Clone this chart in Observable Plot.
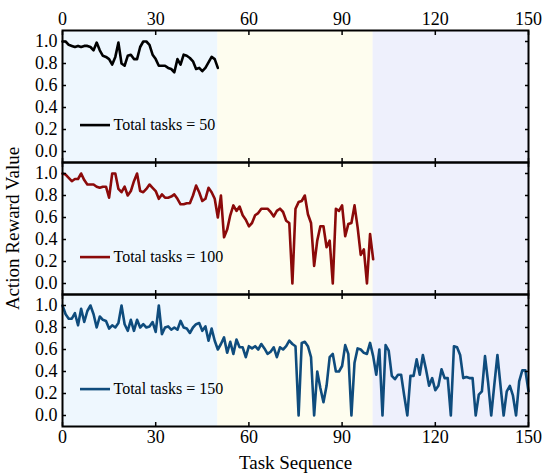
<!DOCTYPE html>
<html><head><meta charset="utf-8">
<script src="https://cdn.jsdelivr.net/npm/d3@7"></script>
<script src="https://cdn.jsdelivr.net/npm/@observablehq/plot@0.6"></script>
<style>html,body{margin:0;padding:0;background:#fff} #chart svg{display:block}</style>
</head><body><div id="chart"></div>
<script>
const tasks50 = [1.0,1.0,0.97,0.96,0.95,0.96,0.95,0.96,0.96,0.95,
  0.92,0.99,0.92,0.87,0.86,0.84,0.79,0.86,0.99,0.80,
  0.78,0.87,0.88,0.84,0.84,0.95,1.0,1.0,0.97,0.88,
  0.84,0.78,0.78,0.78,0.76,0.75,0.72,0.84,0.79,0.88,
  0.87,0.85,0.82,0.75,0.76,0.73,0.76,0.81,0.86,0.84,
  0.76];
const tasks100 = [1.0,0.99,0.96,0.93,0.95,0.95,1.0,0.94,0.90,0.90,
  0.90,0.88,0.87,0.88,0.88,0.78,1.0,1.0,0.86,0.83,
  0.88,0.80,0.84,0.93,1.0,0.84,0.83,0.86,0.90,0.87,
  0.84,0.77,0.81,0.78,0.78,0.79,0.81,0.77,0.72,0.72,
  0.73,0.73,0.80,0.89,0.83,0.75,0.77,0.87,0.83,0.77,
  0.60,0.80,0.42,0.49,0.62,0.71,0.66,0.70,0.62,0.58,
  0.52,0.55,0.62,0.64,0.68,0.68,0.68,0.65,0.61,0.66,
  0.68,0.65,0.57,0.55,0.0,0.68,0.74,0.75,0.80,0.63,
  0.55,0.16,0.39,0.52,0.52,0.33,0.39,0.0,0.68,0.66,
  0.71,0.43,0.54,0.55,0.71,0.51,0.26,0.31,0.0,0.45,
  0.22];
const tasks150 = [1.0,0.92,0.88,0.88,0.93,0.82,0.97,0.85,0.95,1.0,
  0.92,0.80,0.90,0.87,0.86,0.79,0.82,0.80,0.84,1.0,
  0.83,0.77,0.87,0.77,0.87,0.80,0.83,0.80,0.81,0.85,
  0.76,1.0,0.74,0.80,0.81,0.78,0.80,0.78,0.86,0.80,
  0.79,0.75,0.80,0.83,0.84,0.77,0.81,0.68,0.79,0.68,
  0.60,0.65,0.71,0.57,0.67,0.56,0.69,0.62,0.62,0.53,
  0.63,0.61,0.63,0.60,0.65,0.61,0.56,0.58,0.62,0.53,
  0.62,0.60,0.63,0.68,0.65,0.63,0.0,0.66,0.67,0.63,
  0.53,0.0,0.40,0.25,0.12,0.27,0.53,0.56,0.40,0.40,
  0.45,0.64,0.56,0.0,0.48,0.61,0.60,0.57,0.56,0.66,
  0.54,0.37,0.60,0.0,0.64,0.59,0.36,0.33,0.37,0.37,
  0.18,0.0,0.36,0.36,0.51,0.37,0.55,0.42,0.27,0.34,
  0.23,0.27,0.42,0.34,0.34,0.0,0.63,0.62,0.55,0.34,
  0.35,0.34,0.34,0.0,0.19,0.22,0.54,0.30,0.0,0.28,
  0.55,0.27,0.0,0.22,0.27,0.18,0.0,0.31,0.41,0.41,
  0.22];
const seriesLabels = ["Total tasks = 50", "Total tasks = 100", "Total tasks = 150"];
const phaseStart = [0, 50, 100];
const phaseEnd = [50, 100, 150];
const xTicks = [0, 30, 60, 90, 120, 150];
const yTicks = [0, 0.2, 0.4, 0.6, 0.8, 1.0];
const xTitle = "Task Sequence";
const yTitle = "Action Reward Value";

// styles
const lineColors = ["#000000", "#8b0a0a", "#0f4c7d"];
const phaseColors = ["#eef7fe", "#fefdef", "#eef0fc"];
const legendY = 0.24;
const font = "'Liberation Serif', 'Times New Roman', serif";

const seriesValues = [tasks50, tasks100, tasks150];
const rows = seriesValues.flatMap((vals, s) => vals.map((v, i) => ({series: seriesLabels[s], task: i, reward: v})));
const phases = phaseStart.map((a, i) => ({x1: a, x2: phaseEnd[i]}));
const legend = seriesLabels.map(s => ({series: s}));

const chart = Plot.plot({
  width: 550, height: 475,
  marginTop: 30, marginBottom: 49, marginLeft: 62, marginRight: 22,
  style: {fontFamily: font, fontSize: "18px", color: "#000", background: "#fff"},
  x: {domain: [0, 150], label: null},
  y: {domain: [-0.1, 1.1], label: null},
  fy: {domain: seriesLabels, padding: 0, axis: null, label: null},
  color: {domain: seriesLabels, range: lineColors},
  marks: [
    ...phases.map((p, i) => Plot.rect([p], {x1: "x1", x2: "x2", fill: phaseColors[i]})),
    Plot.lineY(rows, {x: "task", y: "reward", fy: "series", stroke: "series", strokeWidth: 2.6, strokeLinejoin: "round"}),
    Plot.ruleY(legend, {fy: "series", y: legendY, stroke: "series", strokeWidth: 2.6, insetLeft: 18, insetRight: 418}),
    Plot.text(legend, {fy: "series", y: legendY, text: "series", frameAnchor: "left", dx: 51, textAnchor: "start", fontSize: 16}),
    Plot.frame({stroke: "#000", strokeWidth: 2}),
    Plot.axisY(yTicks, {anchor: "left", tickSize: -4, tickPadding: 9, tickFormat: ".1f", strokeWidth: 1.5, label: null}),
    Plot.axisY(yTicks, {anchor: "right", tickSize: -4, tickFormat: () => "", strokeWidth: 1.5, label: null}),
    Plot.axisX(xTicks, {anchor: "top", tickSize: -4, tickFormat: () => "", strokeWidth: 1.5, facetAnchor: null, label: null}),
    Plot.axisX(xTicks, {anchor: "bottom", tickSize: -4, tickFormat: () => "", strokeWidth: 1.5, facetAnchor: null, label: null}),
    Plot.axisX(xTicks, {anchor: "top", tickSize: 0, tickPadding: 6, label: null}),
    Plot.axisX(xTicks, {anchor: "bottom", tickSize: 0, tickPadding: 4, label: null}),
    Plot.text([xTitle], {fy: () => seriesLabels[2], text: d => d, frameAnchor: "bottom", lineAnchor: "middle", textAnchor: "middle", dy: 36, fontSize: 19}),
    Plot.text([yTitle], {fy: () => seriesLabels[1], text: d => d, frameAnchor: "left", textAnchor: "middle", lineAnchor: "middle", dx: -50, rotate: -90, fontSize: 19})
  ]
});
document.getElementById("chart").appendChild(chart);
</script>
</body></html>
